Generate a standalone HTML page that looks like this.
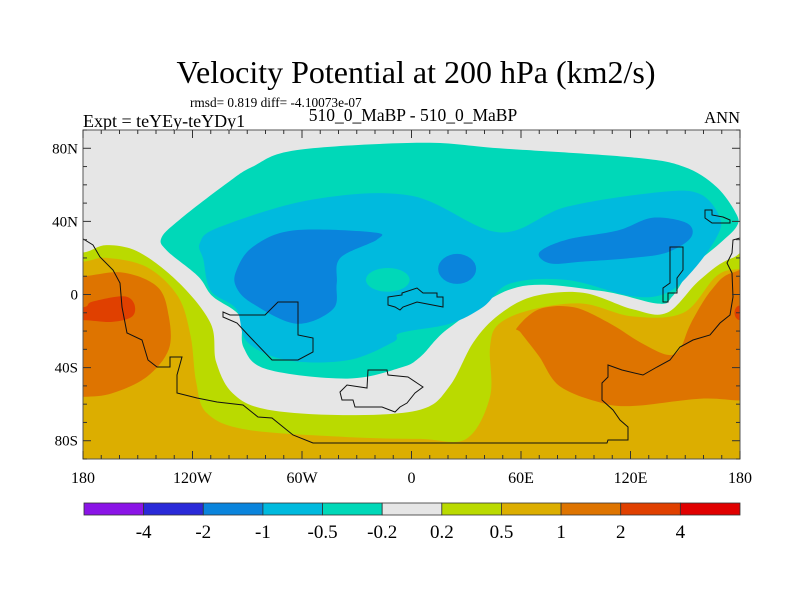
<!DOCTYPE html>
<html><head><meta charset="utf-8"><style>
body{margin:0;background:#fff}
svg{display:block;font-family:"Liberation Serif",serif}
</style></head><body>
<svg id="c" width="800" height="600" viewBox="0 0 800 600">
<text x="416" y="83" font-size="32" text-anchor="middle">Velocity Potential at 200 hPa (km2/s)</text>
<text x="190" y="107" font-size="13.3">rmsd= 0.819 diff= -4.10073e-07</text>
<text x="83" y="127" font-size="18">Expt = teYEy-teYDy1</text>
<text x="413" y="121" font-size="17.5" text-anchor="middle">510_0_MaBP - 510_0_MaBP</text>
<text x="740" y="123" font-size="16.5" text-anchor="end">ANN</text>
<defs><clipPath id="pc"><rect x="83" y="130" width="657" height="329"/></clipPath></defs>
<g id="map" clip-path="url(#pc)"></g>
<g id="coast" fill="none" stroke="#111" stroke-width="1" clip-path="url(#pc)">
<path d="M80,237 L93,245 L100,257 L113,270 L120,283 L122,307 L127,333 L142,340 L148,360 L157,367 L170,367 L170,357 L182,357 L177,375 L177,393 L197,398 L217,402 L243,405 L258,417 L272,418 L293,435 L313,443 L607,443 L608,440 L628,440 L628,427 L620,420 L613,410 L602,400 L602,383 L608,377 L608,365 L622,370 L643,375 L657,367 L670,360 L680,347 L693,340 L710,335 L720,323 L730,315 L733,297 L732,273 L727,263 L732,253 L733,240 L740,238"/>
<path d="M223,312 L230,315 L265,315 L278,302 L298,302 L298,335 L313,338 L313,352 L298,360 L272,360 L250,337 L237,323 L223,317 Z"/>
<path d="M340,392 L347,385 L367,388 L368,370 L387,370 L388,375 L408,377 L417,383 L423,387 L415,393 L407,403 L400,407 L395,412 L382,407 L355,407 L353,400 L342,400 Z"/>
<path d="M388,297 L402,295 L402,293 L417,288 L423,293 L437,293 L437,297 L443,297 L443,307 L417,302 L403,307 L400,310 L395,307 L388,305 Z"/>
<path d="M705,210 L712,210 L712,215 L723,217 L730,220 L730,223 L712,223 L705,218 Z"/>
<path d="M670,247 L683,247 L683,270 L677,278 L677,293 L668,293 L668,302 L663,302 L663,288 L670,283 Z"/>
</g>
<rect x="83" y="130" width="657" height="329" fill="none" stroke="#555" stroke-width="1"/>
<g id="axes"></g>
<g id="cbar"></g>
</svg>
<script>
const levelLabels=["-4","-2","-1","-0.5","-0.2","0.2","0.5","1","2","4"];
const levelColors=["#8a14e6","#2a2ad8","#0a84dc","#00bade","#00d8b8","#e6e6e6","#bada00","#dcae00","#de7400","#e04000","#e00000"];
const lonTicks=[-180,-120,-60,0,60,120,180];
const lonTickLabels=["180","120W","60W","0","60E","120E","180"];
const latTicks=[80,40,0,-40,-80];
const latTickLabels=["80N","40N","0","40S","80S"];
// contour regions [lon,lat], drawn in order
const tealOuter=[[-137,31],[-127,41],[-101,61],[-87,70],[-63,79],[5,83],[48,80],[121,75],[149,70],[167,59],[178,44],[178,37],[169,28],[154,15],[143,-1],[135,-5],[103,2],[58,4],[21,-18],[5,-34],[-6,-40],[-35,-46],[-79,-41],[-92,-29],[-94,-12],[-109,-1],[-117,10],[-134,24]];
const cyanRegion=[[-116,28],[-105,37],[-54,52],[0,54],[48,34],[85,48],[136,56],[158,55],[169,42],[167,31],[154,13],[140,1],[121,-1],[85,8],[54,6],[39,-7],[21,-16],[-6,-21],[-10,-26],[-35,-36],[-68,-36],[-90,-26],[-96,-8],[-110,2],[-114,19]];
const blueWest=[[-96,13],[-87,26],[-65,35],[-21,34],[-19,30],[-39,20],[-41,6],[-43,-8],[-63,-16],[-87,-5],[-96,4]];
const blueEast=[[70,23],[85,30],[113,35],[132,42],[151,39],[153,31],[140,23],[121,20],[94,18],[76,17]];
const tealBlob={lon:-13,lat:8,rlon:12,rlat:6.5};
const blueMid={lon:25,lat:14,rlon:10.4,rlat:8.2};
const greenRegion=[[-180,23],[-167,27],[-149,23],[-127,6],[-110,-16],[-107,-37],[-98,-54],[-79,-63],[-35,-66],[5,-63],[21,-50],[34,-26],[48,-11],[67,-1],[94,1],[121,-8],[140,-10],[158,8],[176,20],[200,22],[200,-130],[-200,-130],[-200,23]];
const yellowRegion=[[-180,18],[-167,20],[-145,15],[-128,-1],[-121,-23],[-118,-48],[-112,-65],[-90,-74],[-35,-78],[5,-79],[30,-79],[43,-56],[43,-29],[48,-16],[67,-8],[94,-5],[121,-12],[149,-10],[167,10],[180,14],[200,15],[200,-130],[-200,-130],[-200,18]];
const orangeWest=[[-200,10],[-180,10],[-158,12],[-139,4],[-133,-12],[-133,-30],[-145,-45],[-164,-54],[-180,-56],[-200,-56]];
const orangeEast=[[58,-18],[70,-8],[89,-7],[109,-16],[125,-26],[140,-33],[147,-30],[153,-16],[164,2],[176,12],[200,12],[200,-58],[180,-58],[158,-57],[121,-61],[103,-59],[81,-50],[70,-34],[60,-21]];
const redWest=[[-200,-7],[-180,-7],[-175,-4],[-158,-1],[-152,-5],[-153,-12],[-164,-15],[-180,-14],[-200,-14]];
const redEast={lon:180,lat:-10,rlon:3,rlat:4};

const X0=83,X1=740,Y0=130,Y1=459;
const xs=lon=>X0+(lon+180)/360*(X1-X0);
const ys=lat=>Y0+(90-lat)/180*(Y1-Y0);
const NS="http://www.w3.org/2000/svg";
function smooth(pts){
  const p=pts.map(q=>[xs(q[0]),ys(q[1])]);const n=p.length;
  let d=`M${p[0][0].toFixed(1)},${p[0][1].toFixed(1)}`;
  for(let i=0;i<n;i++){
    const a=p[(i-1+n)%n],b=p[i],c=p[(i+1)%n],e=p[(i+2)%n];
    const c1=[b[0]+(c[0]-a[0])/6,b[1]+(c[1]-a[1])/6],c2=[c[0]-(e[0]-b[0])/6,c[1]-(e[1]-b[1])/6];
    d+=`C${c1[0].toFixed(1)},${c1[1].toFixed(1)} ${c2[0].toFixed(1)},${c2[1].toFixed(1)} ${c[0].toFixed(1)},${c[1].toFixed(1)}`;
  }
  return d+"Z";
}
const map=document.getElementById('map');
const bg=document.createElementNS(NS,'rect');
bg.setAttribute('x',X0);bg.setAttribute('y',Y0);bg.setAttribute('width',X1-X0);bg.setAttribute('height',Y1-Y0);bg.setAttribute('fill',levelColors[5]);


map.appendChild(bg);
function region(pts,color,name){
  const el=document.createElementNS(NS,'path');
  el.setAttribute('d',smooth(pts));el.setAttribute('fill',color);
  
  
  map.appendChild(el);
}
function blob(o,color,name){
  const el=document.createElementNS(NS,'ellipse');
  el.setAttribute('cx',xs(o.lon));el.setAttribute('cy',ys(o.lat));
  el.setAttribute('rx',o.rlon/360*(X1-X0));el.setAttribute('ry',o.rlat/180*(Y1-Y0));
  el.setAttribute('fill',color);
  
  
  map.appendChild(el);
}
region(tealOuter,levelColors[4],'contour-neg-0.2');
region(cyanRegion,levelColors[3],'contour-neg-0.5');
region(blueWest,levelColors[2],'contour-neg-1-west');
region(blueEast,levelColors[2],'contour-neg-1-east');
blob(blueMid,levelColors[2],'contour-neg-1-mid');
blob(tealBlob,levelColors[4],'contour-neg-0.2-blob');
region(greenRegion,levelColors[6],'contour-pos-0.2');
region(yellowRegion,levelColors[7],'contour-pos-0.5');
region(orangeWest,levelColors[8],'contour-pos-1-west');
region(orangeEast,levelColors[8],'contour-pos-1-east');
region(redWest,levelColors[9],'contour-pos-2-west');
blob(redEast,levelColors[9],'contour-pos-2-east');

const axes=document.getElementById('axes');
function line(x1,y1,x2,y2,name){
  const l=document.createElementNS(NS,'line');
  l.setAttribute('x1',x1);l.setAttribute('y1',y1);l.setAttribute('x2',x2);l.setAttribute('y2',y2);
  l.setAttribute('stroke','#333');l.setAttribute('stroke-width','1');
  
  
  axes.appendChild(l);
}
function txt(x,y,s,anchor,size,name,parent){
  const t=document.createElementNS(NS,'text');
  t.setAttribute('x',x);t.setAttribute('y',y);t.setAttribute('text-anchor',anchor);t.setAttribute('font-size',size);
  t.textContent=s;
  
  
  parent.appendChild(t);
}
for(let lon=-180;lon<=180;lon+=10){
  const L=(lon%60===0)?8:4,x=xs(lon);
  line(x,Y1,x,Y1-L,'x-tick');line(x,Y0,x,Y0+L,'x-tick');
}
for(let lat=-90;lat<=90;lat+=10){
  const L=(lat%40===0)?8:4,y=ys(lat);
  line(X0,y,X0+L,y,'y-tick');line(X1,y,X1-L,y,'y-tick');
}
lonTicks.forEach((v,i)=>txt(xs(v),483,lonTickLabels[i],'middle',16,'x-tick-label',axes));
latTicks.forEach((v,i)=>txt(X0-5,ys(v)+5,latTickLabels[i],'end',15,'y-tick-label',axes));

const cb=document.getElementById('cbar');
const CB0=84,CB1=740,CBY=503,CBH=12,bw=(CB1-CB0)/levelColors.length;
levelColors.forEach((c,i)=>{
  const r=document.createElementNS(NS,'rect');
  r.setAttribute('x',CB0+i*bw);r.setAttribute('y',CBY);r.setAttribute('width',bw);r.setAttribute('height',CBH);
  r.setAttribute('fill',c);r.setAttribute('stroke','#333');r.setAttribute('stroke-width','0.8');
  
  
  cb.appendChild(r);
});
levelLabels.forEach((s,i)=>txt(CB0+(i+1)*bw,538,s,'middle',19,'colorbar-label',cb));
</script>
</body></html>
